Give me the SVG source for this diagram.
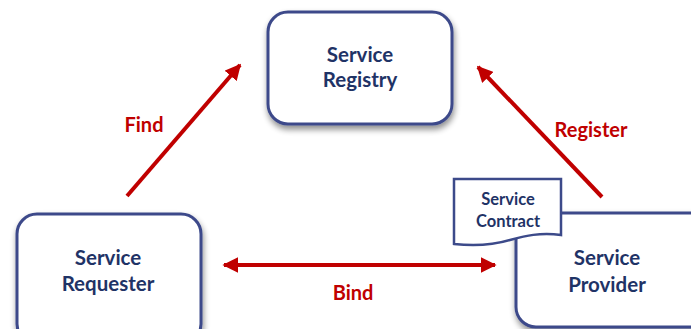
<svg xmlns="http://www.w3.org/2000/svg" width="691" height="329" viewBox="0 0 691 329">
<defs>
<filter id="sh" x="-20%" y="-20%" width="140%" height="150%">
<feGaussianBlur in="SourceAlpha" stdDeviation="3"/>
<feOffset dx="1" dy="4" result="b"/>
<feComponentTransfer><feFuncA type="linear" slope="0.45"/></feComponentTransfer>
<feMerge><feMergeNode/><feMergeNode in="SourceGraphic"/></feMerge>
</filter>
<marker id="ah" viewBox="0 0 10 10" refX="9" refY="5" markerWidth="4" markerHeight="4" orient="auto-start-reverse" markerUnits="strokeWidth">
<path d="M0,0 L10,5 L0,10 Z" fill="#C00000"/>
</marker>
<style>
.box{fill:#fff;stroke:#3C4A8A;stroke-width:3}
.nt{font-family:Lato,"Open Sans",sans-serif;font-weight:bold;font-size:20.5px;fill:#1F3366;text-anchor:middle}
.ct{font-family:Lato,"Open Sans",sans-serif;font-weight:bold;font-size:16.5px;fill:#1F3366;text-anchor:middle}
.lb{font-family:Lato,"Open Sans",sans-serif;font-weight:bold;font-size:20px;fill:#C00000;text-anchor:middle}
.ar{stroke:#C00000;stroke-width:4;fill:none}
</style>
</defs>
<rect width="691" height="329" fill="#fff"/>
<g id="registry">
<rect class="box" x="268" y="12" width="184" height="112" rx="20" filter="url(#sh)"/>
<text class="nt" x="360" y="62">Service</text>
<text class="nt" x="360" y="87">Registry</text>
</g>
<g id="requester">
<rect class="box" x="17" y="214" width="184" height="130" rx="20" filter="url(#sh)"/>
<text class="nt" x="108" y="265">Service</text>
<text class="nt" x="108" y="291">Requester</text>
</g>
<g id="provider">
<rect class="box" x="516" y="213" width="200" height="114" rx="20" filter="url(#sh)"/>
<text class="nt" x="607" y="265">Service</text>
<text class="nt" x="607" y="292">Provider</text>
</g>
<g id="contract">
<path d="M454,179 H561 V235 C540,232 525,236 510,240 C490,246 472,246 454,244 Z" fill="#fff" stroke="#3C4A8A" stroke-width="2.5"/>
<text class="ct" x="508" y="205">Service</text>
<text class="ct" x="508" y="227">Contract</text>
</g>
<g id="connectors">
<line class="ar" x1="127" y1="196" x2="240" y2="65" marker-end="url(#ah)"/>
<line class="ar" x1="602" y1="197" x2="478" y2="67" marker-end="url(#ah)"/>
<line class="ar" x1="224" y1="265" x2="495" y2="265" marker-start="url(#ah)" marker-end="url(#ah)"/>
<text class="lb" x="144" y="132">Find</text>
<text class="lb" x="591" y="137">Register</text>
<text class="lb" x="353" y="300">Bind</text>
</g>
</svg>
